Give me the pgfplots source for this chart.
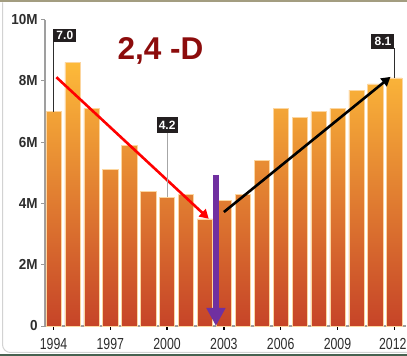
\documentclass[border=0pt]{standalone}
\usepackage{pgfplots}
\pgfplotsset{compat=1.18}
\usepackage{fontspec}
\setmainfont{Liberation Sans}
\newfontfamily\xtickfont[FakeStretch=0.77]{Liberation Sans}
\newfontfamily\ytickfont[FakeStretch=0.93]{Liberation Sans}
\usetikzlibrary{arrows.meta}

\definecolor{barTop}{RGB}{253,186,58}
\definecolor{barMid}{RGB}{240,140,38}
\definecolor{barBot}{RGB}{198,68,40}
\definecolor{barEdge}{RGB}{252,214,160}
\definecolor{titleRed}{RGB}{140,12,12}
\definecolor{calloutBg}{RGB}{35,31,32}
\definecolor{arrowPurple}{RGB}{112,48,160}
\definecolor{frameTop}{RGB}{163,157,128}
\definecolor{frameBottom}{RGB}{70,98,80}
\definecolor{labelGray}{RGB}{45,45,45}

\pgfplotstableread{
year value
1994 7.0
1995 8.6
1996 7.1
1997 5.1
1998 5.9
1999 4.4
2000 4.2
2001 4.3
2002 3.5
2003 4.1
2004 4.3
2005 5.4
2006 7.1
2007 6.8
2008 7.0
2009 7.1
2010 7.7
2011 7.9
2012 8.1
}\herbicide

\begin{document}
\begin{tikzpicture}
\useasboundingbox (0,0) rectangle (407pt,356pt);
% frame
\fill[frameTop] (0,353.5pt) rectangle (407pt,356pt);
\draw[gray!35, line width=1pt, rounded corners=8pt] (2.5pt,353.5pt) -- (2.5pt,3.5pt) -- (407pt,3.5pt);
\draw[frameBottom, line width=1.6pt] (0,0.8pt) -- (407pt,0.8pt);

\begin{axis}[
  at={(45pt,30pt)}, anchor=south west,
  scale only axis,
  width=361pt, height=306.4pt,
  xmin=1993.55, xmax=2012.62,
  ymin=0, ymax=10,
  clip=false,
  axis lines*=left,
  axis line style={gray!75, line width=1.3pt},
  tick align=outside,
  major tick length=3.8pt,
  xtick={1994,1997,2000,2003,2006,2009,2012},
  xticklabels={1994,1997,2000,2003,2006,2009,\hspace*{-3pt}2012},
  ytick={0,2,4,6,8,10},
  yticklabels={0,2M,4M,6M,8M,10M},
  xtick style={black, line width=1.3pt},
  ytick style={gray!80, line width=0.8pt},
  xticklabel style={font=\xtickfont\fontsize{16}{17}\selectfont, text=labelGray, yshift=-5pt},
  yticklabel style={font=\ytickfont\bfseries\fontsize{14.5}{15}\selectfont, text=labelGray},
]
\addplot[ybar, bar width=15.2pt, draw=barEdge, line width=0.5pt,
  top color=barTop, middle color=barMid, bottom color=barBot]
  table[x=year, y=value] {\herbicide};

% trend arrows
\addplot[red, line width=2.6pt, -{Triangle[length=9pt,width=10pt]}]
  coordinates {(1994.15,8.12) (2002.2,3.5)};
\addplot[black, line width=2.6pt, -{Triangle[length=9pt,width=10pt]}]
  coordinates {(2003.0,3.72) (2011.8,8.13)};
\addplot[arrowPurple, line width=6.5pt, -{Triangle[length=18pt,width=18pt]}]
  coordinates {(2002.58,4.93) (2002.58,0)};

% callouts
\draw[labelGray, line width=1pt] (axis cs:1994,9.27) -- (axis cs:1994,7.0);
\node[fill=calloutBg, text=white, font=\bfseries\fontsize{12}{13}\selectfont,
  inner sep=0pt, minimum width=23pt, minimum height=13.5pt, anchor=south west]
  at (axis cs:1993.98,9.26) {7.0};
\draw[gray!70, line width=1pt] (axis cs:2000,6.29) -- (axis cs:2000,4.2);
\node[fill=calloutBg, text=white, font=\bfseries\fontsize{12}{13}\selectfont,
  inner sep=0pt, minimum width=21pt, minimum height=16pt, anchor=south]
  at (axis cs:2000,6.28) {4.2};
\draw[labelGray, line width=1pt] (axis cs:2012,9.06) -- (axis cs:2012,8.1);
\node[fill=calloutBg, text=white, font=\bfseries\fontsize{12}{13}\selectfont,
  inner sep=0pt, minimum width=23pt, minimum height=15pt, anchor=south east]
  at (axis cs:2012.02,9.05) {8.1};

% title
\node[anchor=base, text=titleRed, font=\bfseries\fontsize{31.5}{34}\selectfont]
  at (axis cs:1999.65,8.71) {2,4 -D};
\end{axis}
\end{tikzpicture}
\end{document}
